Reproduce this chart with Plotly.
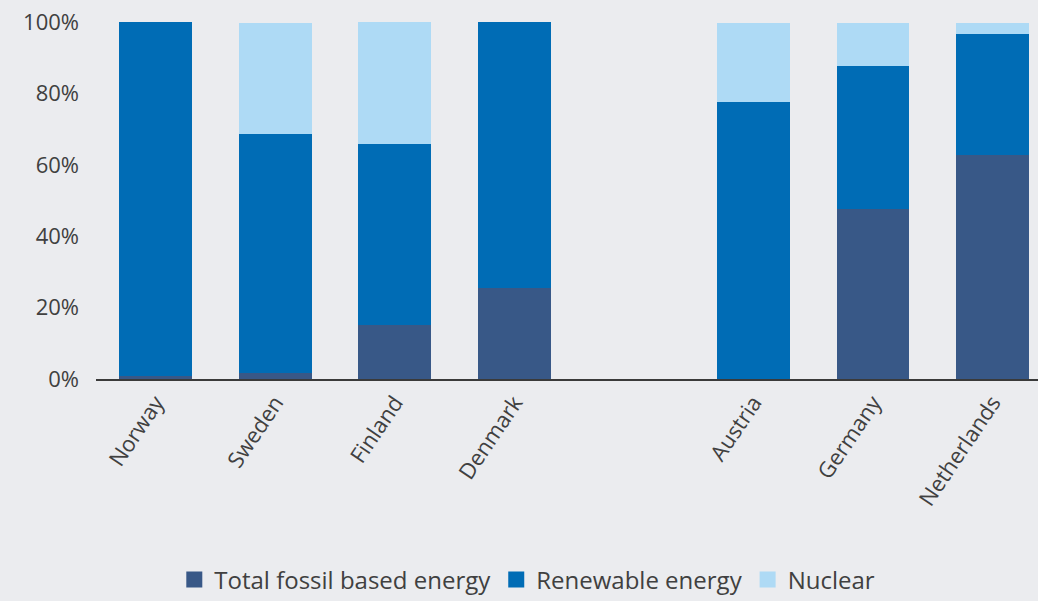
import plotly.graph_objects as go

countries = ["Norway", "Sweden", "Finland", "Denmark", " ", "Austria", "Germany", "Netherlands"]
fossil = [0.8, 1.6, 15.1, 25.5, None, 0.0, 47.6, 62.7]
renewable = [99.2, 67.0, 50.7, 74.5, None, 77.6, 40.1, 34.0]
nuclear = [0.0, 31.1, 34.2, 0.0, None, 22.1, 12.0, 3.0]
series_names = ["Total fossil based energy", "Renewable energy", "Nuclear"]
series_colors = ["#385887", "#006cb5", "#aedaf5"]
y_ticks = [0, 20, 40, 60, 80, 100]
y_tick_labels = ["0%", "20%", "40%", "60%", "80%", "100%"]

font_family = "'Open Sans', Lato, sans-serif"
text_color = "#404040"
bg = "#ebecef"

fig = go.Figure()
for name, vals, color in zip(series_names, [fossil, renewable, nuclear], series_colors):
    fig.add_trace(go.Bar(x=countries, y=vals, name=name, marker=dict(color=color, line=dict(width=0)),
                         width=0.61, showlegend=False, legendgroup=name))
# legend entries with larger square swatches
for name, color in zip(series_names, series_colors):
    fig.add_trace(go.Scatter(x=[None], y=[None], mode="markers", name=name, legendgroup=name,
                             marker=dict(symbol="square", size=18, color=color), showlegend=True))

fig.update_layout(
    barmode="stack",
    width=1038, height=601,
    paper_bgcolor=bg, plot_bgcolor=bg,
    margin=dict(l=96, r=0, t=22, b=222),
    font=dict(family=font_family, size=21, color=text_color),
    showlegend=True,
    legend=dict(orientation="h", xref="container", yref="container", x=0.508, xanchor="center",
                y=0.035, yanchor="middle", font=dict(size=24, color=text_color),
                itemwidth=30, traceorder="normal"),
)
fig.update_xaxes(type="category", categoryorder="array", categoryarray=countries,
                 range=[-0.5, 7.38], tickangle=-56, showgrid=False, showline=True,
                 linecolor="#3a3a3a", linewidth=2, ticks="", tickfont=dict(size=22, color=text_color))
fig.update_yaxes(range=[0, 100], tickvals=y_ticks, ticktext=y_tick_labels, showgrid=False,
                 zeroline=False, showline=False, ticks="", ticklabelstandoff=16,
                 tickfont=dict(size=22, color=text_color))

fig.write_html("out.html", config={"displayModeBar": False},
               post_script="document.body.style.margin='0';document.body.style.background='#ebecef';")
